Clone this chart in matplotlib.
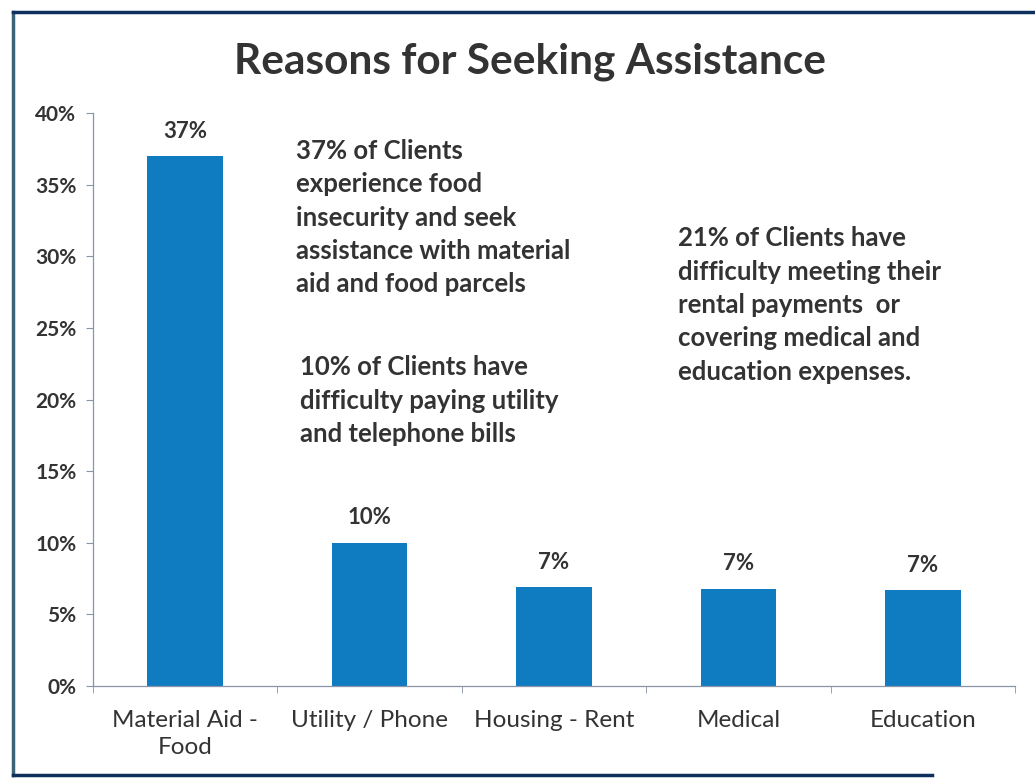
import matplotlib
matplotlib.use("Agg")
import matplotlib.pyplot as plt
from matplotlib.lines import Line2D
from matplotlib.ticker import FuncFormatter, FixedLocator

plt.rcParams['font.family'] = ['Lato', 'DejaVu Sans']

categories = ["Material Aid -\nFood", "Utility / Phone", "Housing - Rent", "Medical", "Education"]
values = [37.0, 10.0, 6.9, 6.8, 6.7]
yticks = [0, 5, 10, 15, 20, 25, 30, 35, 40]

notes = [
    (0.6, 38.2, "37% of Clients\nexperience food\ninsecurity and seek\nassistance with material\naid and food parcels"),
    (0.62, 23.1, "10% of Clients have\ndifficulty paying utility\nand telephone bills"),
    (2.67, 32.1, "21% of Clients have\ndifficulty meeting their\nrental payments  or\ncovering medical and\neducation expenses."),
]

txt = '#333333'
bar_col = '#0f7bc0'
axis_col = '#8a94a8'

fig = plt.figure(figsize=(10.35, 7.8), dpi=100)
ax = fig.add_axes([0.0899, 0.1205, 0.8908, 0.7346])

x = range(len(categories))
bars = ax.bar(x, values, width=0.41, color=bar_col)

for xi, v in zip(x, values):
    ax.text(xi, v + 1.0, "{:.0f}%".format(v), ha='center', va='bottom',
            fontsize=16, fontweight='bold', color=txt)

for nx, ny, s in notes:
    ax.text(nx, ny, s, ha='left', va='top', fontsize=18.5, fontweight='bold',
            color=txt, linespacing=1.47)

ax.set_xlim(-0.5, len(categories) - 0.5)
ax.set_ylim(0, 40)
ax.yaxis.set_major_locator(FixedLocator(yticks))
ax.yaxis.set_major_formatter(FuncFormatter(lambda v, p: "{:.0f}%".format(v)))
ax.set_xticks(list(x))
ax.set_xticklabels(categories, fontsize=17.5, color=txt, linespacing=1.4)
ax.set_xticks([i + 0.5 for i in range(-1, len(categories))], minor=True)
ax.tick_params(axis='x', which='major', length=0, pad=17)
ax.tick_params(axis='x', which='minor', length=5, color=axis_col, direction='out')
ax.tick_params(axis='y', length=5, color=axis_col, labelsize=15, labelcolor=txt, pad=7)
for lab in ax.get_yticklabels():
    lab.set_fontweight('bold')

for side in ['top', 'right']:
    ax.spines[side].set_visible(False)
for side in ['left', 'bottom']:
    ax.spines[side].set_color(axis_col)
    ax.spines[side].set_linewidth(0.9)

fig.text(0.512, 0.921, "Reasons for Seeking Assistance", ha='center', va='center',
         fontsize=30.5, fontweight='bold', color=txt)

# scanned page frame
fig.add_artist(Line2D([0.013, 0.013], [0.006, 0.985], color='#3d6376', lw=2.5, transform=fig.transFigure))
fig.add_artist(Line2D([0.013, 1.0], [0.985, 0.985], color='#0f2f5c', lw=2.5, transform=fig.transFigure))
fig.add_artist(Line2D([0.013, 0.9], [0.006, 0.006], color='#0f2f5c', lw=2.5, transform=fig.transFigure))

fig.savefig("out.png", dpi=100)
